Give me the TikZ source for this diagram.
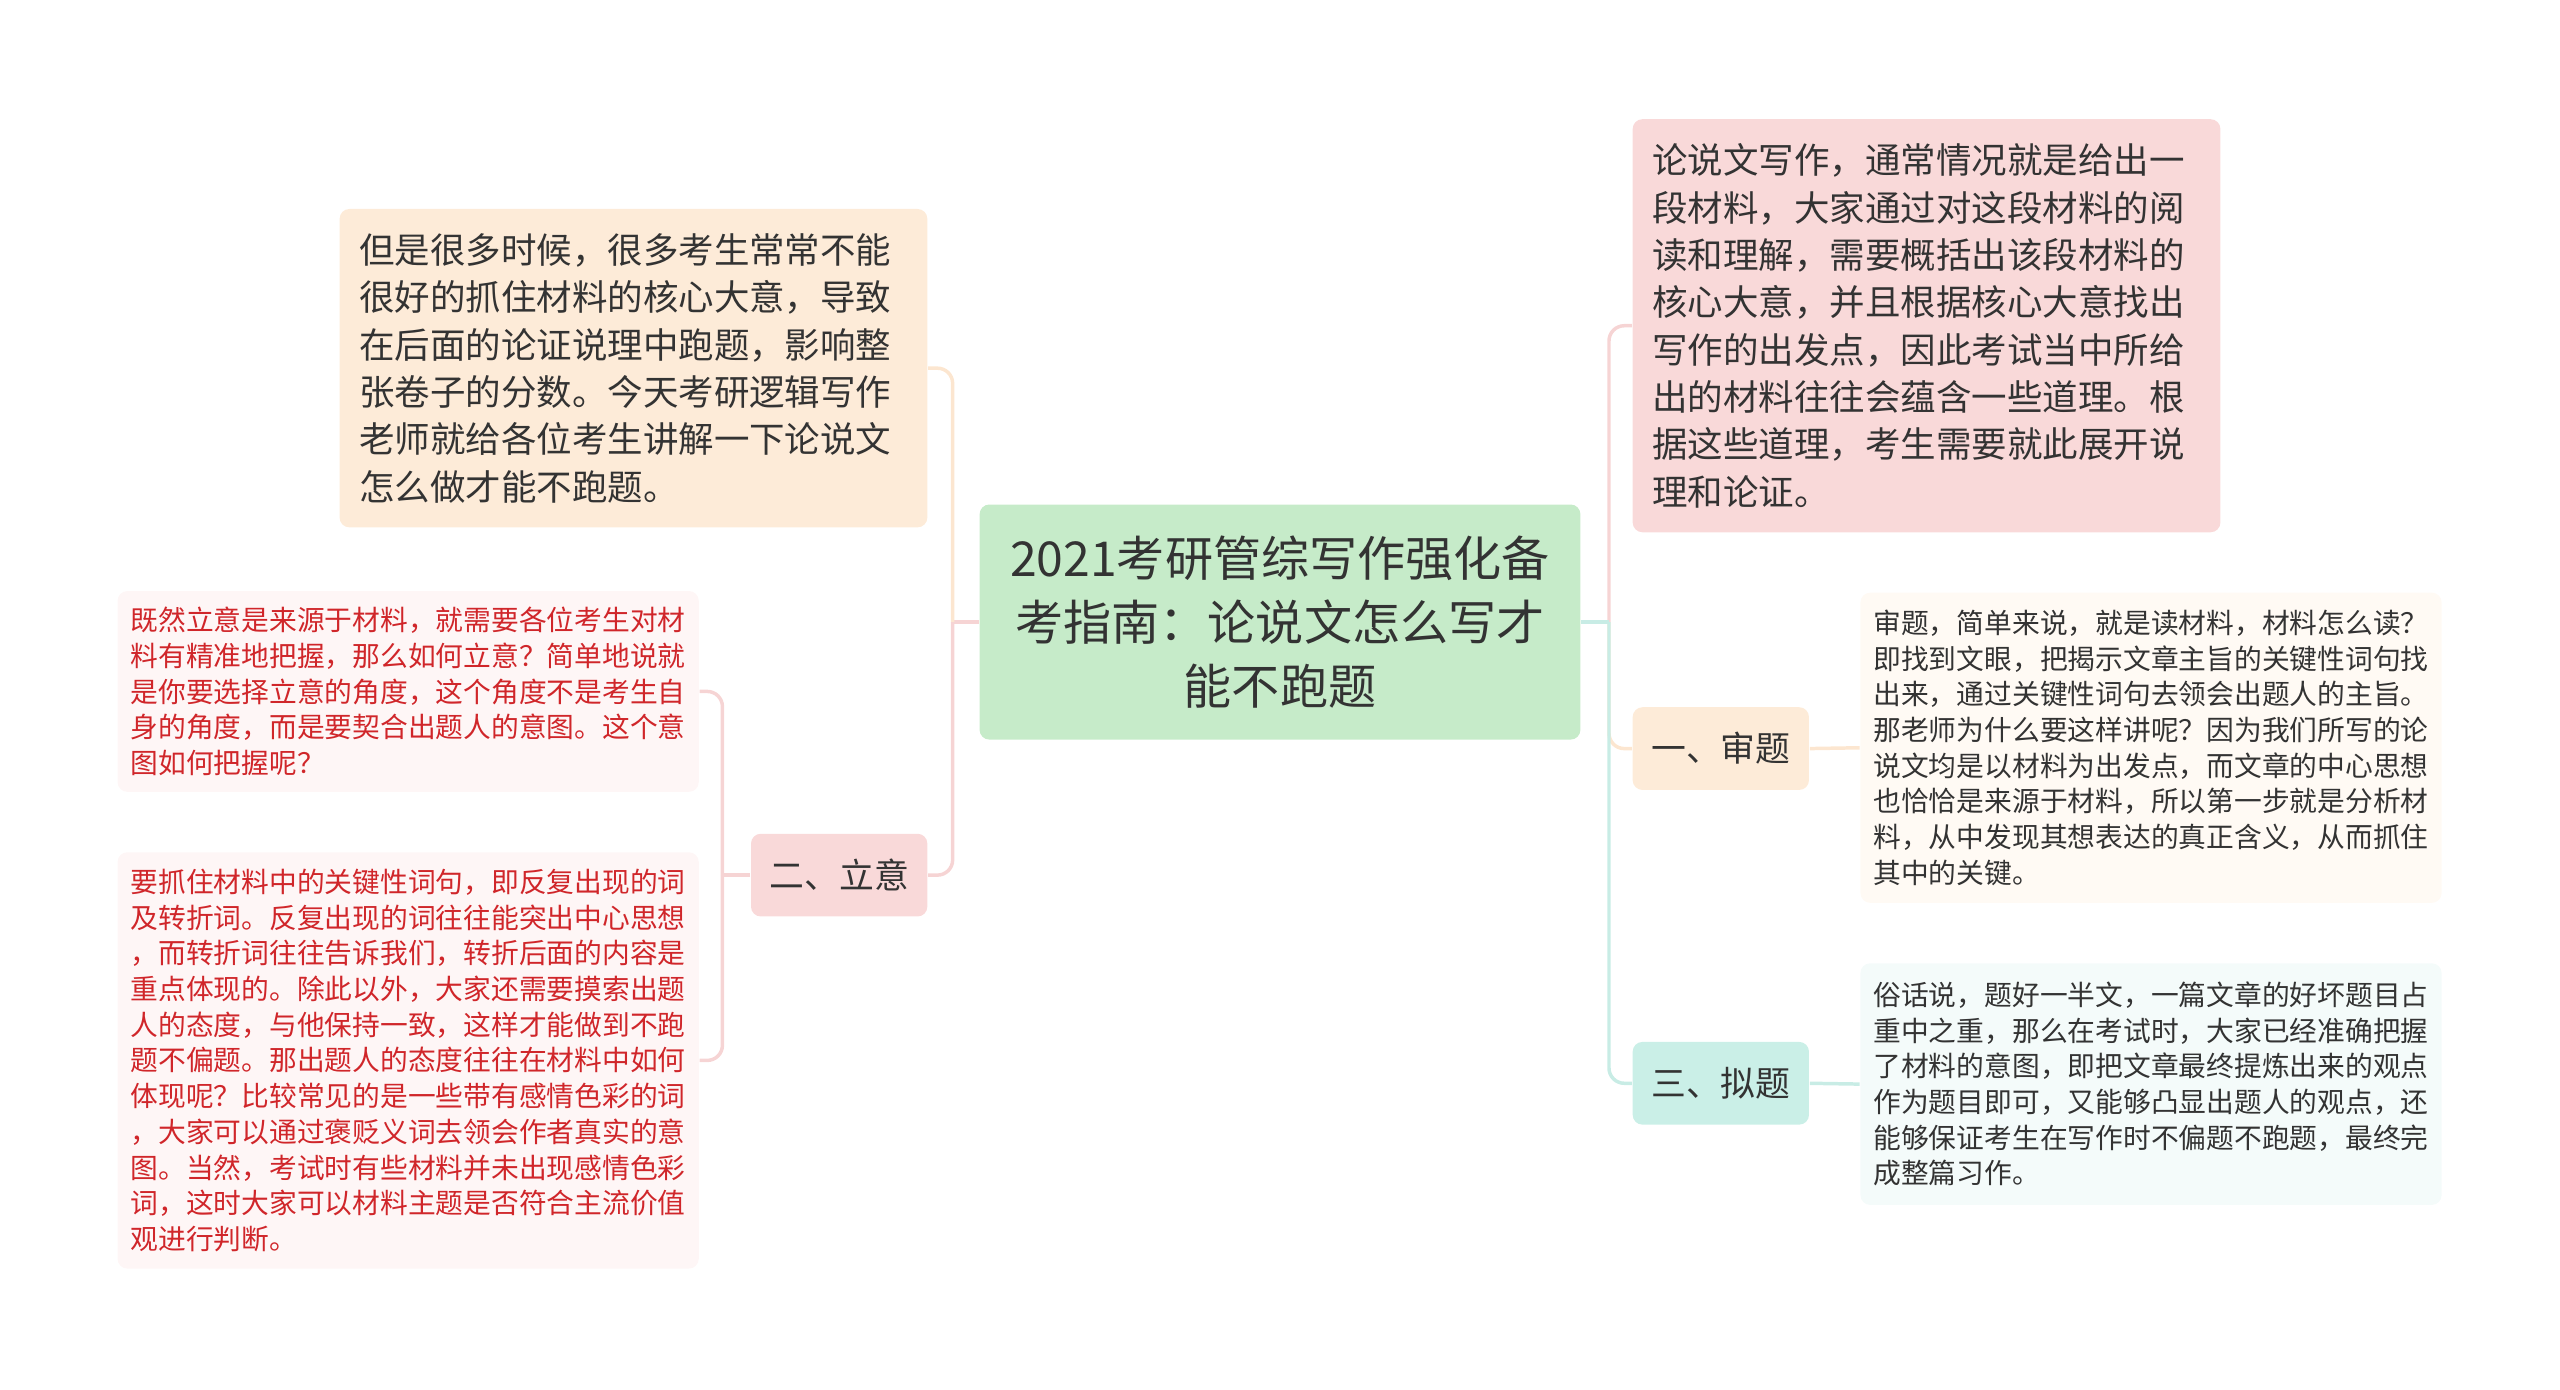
\documentclass[tikz,border=0pt]{standalone}
\usepackage{fontspec}
\newfontfamily\cjk{Noto Sans CJK SC}

\definecolor{textdark}{RGB}{51,51,51}
\definecolor{notered}{RGB}{208,38,42}
\definecolor{rootfill}{RGB}{198,235,201}
\definecolor{peachfill}{RGB}{253,235,216}
\definecolor{pinkfill}{RGB}{249,217,217}
\definecolor{tealfill}{RGB}{202,239,231}
\definecolor{pinknote}{RGB}{254,246,246}
\definecolor{peachnote}{RGB}{255,250,244}
\definecolor{tealnote}{RGB}{244,251,250}
\definecolor{pinkedge}{RGB}{246,212,212}
\definecolor{peachedge}{RGB}{252,230,208}
\definecolor{tealedge}{RGB}{200,236,229}

\tikzset{every picture/.style={line width=0.75pt}}
\tikzset{
  rootbox/.style={fill=rootfill, rounded corners=4.5pt, minimum width=276pt, minimum height=108pt,
    inner sep=0pt, align=center, text=textdark, font=\cjk\fontsize{22.1}{29.6}\selectfont},
  bigbox/.style={rounded corners=4.5pt, text width=252pt, inner xsep=9pt, inner ysep=0pt,
    align=left, text=textdark, font=\cjk\fontsize{16.3}{21.75}\selectfont},
  labelbox/.style={rounded corners=4.5pt, minimum width=81pt, minimum height=38pt, inner sep=0pt,
    text=textdark, font=\cjk\fontsize{16}{20}\selectfont},
  notebox/.style={rounded corners=4.5pt, text width=255pt, inner xsep=6pt, inner ysep=0pt,
    align=left, font=\cjk\fontsize{12.75}{16.4}\selectfont},
  pinkline/.style={draw=pinkedge, line width=1.6pt, rounded corners=7pt},
  peachline/.style={draw=peachedge, line width=1.6pt, rounded corners=7pt},
  tealline/.style={draw=tealedge, line width=1.6pt, rounded corners=7pt}
}

\begin{document}
\begin{tikzpicture}[x=0.75pt,y=0.75pt,yscale=-1,xscale=1]
\useasboundingbox (0,0) rectangle (1568,851);

% Root
\node[rootbox] (root) at (784,381) {2021考研管综写作强化备\\考指南：论说文怎么写才\\能不跑题};

% Left side
\node[bigbox, fill=peachfill, minimum height=146.25pt] (intro) at (388,225.5) {但是很多时候，很多考生常常不能\\很好的抓住材料的核心大意，导致\\在后面的论证说理中跑题，影响整\\张卷子的分数。今天考研逻辑写作\\老师就给各位考生讲解一下论说文\\怎么做才能不跑题。};
\node[labelbox, fill=pinkfill] (liyi) at (514,536) {二、立意};
\node[notebox, fill=pinknote, text=notered, minimum height=92.25pt] (liyia) at (250,423.5) {既然立意是来源于材料，就需要各位考生对材\\料有精准地把握，那么如何立意？简单地说就\\是你要选择立意的角度，这个角度不是考生自\\身的角度，而是要契合出题人的意图。这个意\\图如何把握呢？};
\node[notebox, fill=pinknote, text=notered, minimum height=191.25pt] (liyib) at (250,649.5) {要抓住材料中的关键性词句，即反复出现的词\\及转折词。反复出现的词往往能突出中心思想\\，而转折词往往告诉我们，转折后面的内容是\\重点体现的。除此以外，大家还需要摸索出题\\人的态度，与他保持一致，这样才能做到不跑\\题不偏题。那出题人的态度往往在材料中如何\\体现呢？比较常见的是一些带有感情色彩的词\\，大家可以通过褒贬义词去领会作者真实的意\\图。当然，考试时有些材料并未出现感情色彩\\词，这时大家可以材料主题是否符合主流价值\\观进行判断。};

% Right side
\node[bigbox, fill=pinkfill, minimum height=189.75pt] (essay) at (1180,199.5) {论说文写作，通常情况就是给出一\\段材料，大家通过对这段材料的阅\\读和理解，需要概括出该段材料的\\核心大意，并且根据核心大意找出\\写作的出发点，因此考试当中所给\\出的材料往往会蕴含一些道理。根\\据这些道理，考生需要就此展开说\\理和论证。};
\node[labelbox, fill=peachfill] (shenti) at (1054,458.5) {一、审题};
\node[labelbox, fill=tealfill] (niti) at (1054,663.5) {三、拟题};
\node[notebox, fill=peachnote, text=textdark, minimum height=142.5pt] (shentinote) at (1317.5,458) {审题，简单来说，就是读材料，材料怎么读？\\即找到文眼，把揭示文章主旨的关键性词句找\\出来，通过关键性词句去领会出题人的主旨。\\那老师为什么要这样讲呢？因为我们所写的论\\说文均是以材料为出发点，而文章的中心思想\\也恰恰是来源于材料，所以第一步就是分析材\\料，从中发现其想表达的真正含义，从而抓住\\其中的关键。};
\node[notebox, fill=tealnote, text=textdark, minimum height=111pt] (nitinote) at (1317.5,664) {俗话说，题好一半文，一篇文章的好坏题目占\\重中之重，那么在考试时，大家已经准确把握\\了材料的意图，即把文章最终提炼出来的观点\\作为题目即可，又能够凸显出题人的观点，还\\能够保证考生在写作时不偏题不跑题，最终完\\成整篇习作。};

% Connectors, left
\draw[pinkline] (root.west) -- ++(-16,0) coordinate (lj);
\draw[peachline] (lj) |- (intro.east);
\draw[pinkline] (lj) |- (liyi.east);
\draw[pinkline] (liyi.west) -- ++(-17,0) coordinate (mj);
\draw[pinkline] (mj) |- (liyia.east);
\draw[pinkline] (mj) |- (liyib.east);

% Connectors, right
\draw[pinkline] (root.east) ++(17,0) coordinate (rj) |- (essay.west);
\draw[peachline] (rj) |- (shenti.west);
\draw[tealline] (rj) |- (niti.west);
\draw[tealline] (root.east) -- (rj);
\draw[peachline] (shenti.east) -- (shentinote.west);
\draw[tealline] (niti.east) -- (nitinote.west);

\end{tikzpicture}
\end{document}
